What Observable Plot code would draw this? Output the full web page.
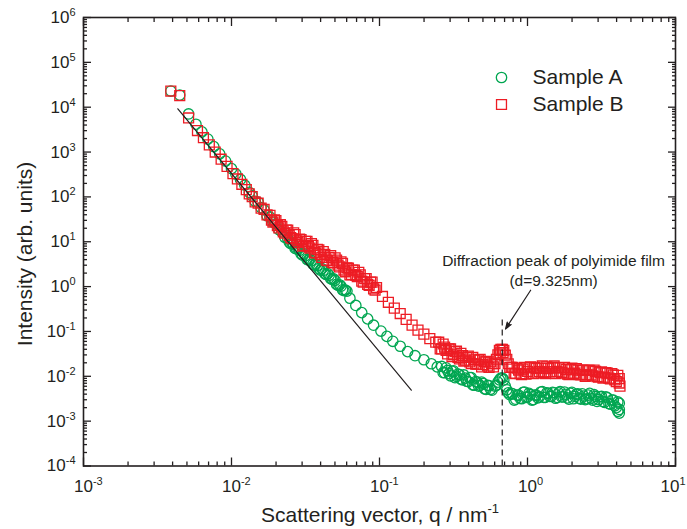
<!DOCTYPE html>
<html>
<head>
<meta charset="utf-8">
<script src="https://cdn.jsdelivr.net/npm/d3@7"></script>
<script src="https://cdn.jsdelivr.net/npm/@observablehq/plot@0.6"></script>
<style>
  html, body { margin: 0; padding: 0; background: #fff; }
  #chart svg { overflow: visible; display: block; }
</style>
</head>
<body>
<div id="chart"></div>
<script>
// ---- Sample A (green circles): q [nm^-1], intensity [arb. units]
const qA = [
  3.89e-3, 4.47e-3, 5.13e-3, 5.75e-3, 6.31e-3, 6.92e-3, 7.59e-3, 8.32e-3, 9.12e-3, 1.00e-2, 1.07e-2, 1.15e-2, 1.23e-2, 1.32e-2,
  1.38e-2, 1.445e-2, 1.514e-2, 1.585e-2, 1.66e-2, 1.738e-2, 1.82e-2, 1.905e-2, 1.995e-2, 2.089e-2,
  2.188e-2, 2.291e-2, 2.399e-2, 2.512e-2, 2.63e-2, 2.754e-2, 2.884e-2, 3.02e-2, 3.162e-2, 3.311e-2,
  3.467e-2, 3.631e-2, 3.802e-2, 3.981e-2, 4.169e-2, 4.365e-2, 4.571e-2, 4.786e-2, 5.012e-2, 5.248e-2,
  5.495e-2, 5.754e-2, 6.026e-2,
  6.31e-2, 6.918e-2, 7.586e-2, 8.318e-2, 9.12e-2, 0.1023, 0.1122, 0.123, 0.138, 0.1549, 0.1738, 0.1995, 0.2239, 0.2455,
  0.263, 0.2754, 0.2884, 0.302, 0.3162, 0.3311, 0.3467, 0.3631, 0.3802, 0.3981,
  0.4169, 0.4365, 0.4571, 0.4786, 0.5012, 0.5248, 0.5495, 0.5754, 0.6026,
  0.6166, 0.631, 0.6457, 0.6607, 0.6761, 0.6918, 0.7079, 0.7244, 0.7413, 0.7586,
  0.7943, 0.8318, 0.871, 0.912, 0.955, 1.0, 1.047, 1.096, 1.148, 1.202,
  1.259, 1.318, 1.38, 1.445, 1.514, 1.585, 1.66, 1.738, 1.82, 1.905,
  1.995, 2.089, 2.188, 2.291, 2.399, 2.512, 2.63, 2.754, 2.884, 3.02,
  3.162, 3.311, 3.467, 3.631, 3.802, 3.981, 4.074, 4.169, 4.169, 4.074, 4.169
];
const iA = [
  2.29e4, 1.86e4, 7.08e3, 4.17e3, 2.82e3, 1.95e3, 1.32e3, 912, 631, 427, 324, 245, 182, 126,
  105, 79.4, 75.9, 57.5, 51.3, 38.0, 35.5, 27.5, 25.1, 18.6,
  16.6, 12.6, 11.7, 9.12, 8.71, 6.92, 6.46, 5.01, 4.90, 3.89,
  3.80, 3.02, 2.95, 2.34, 2.29, 1.86, 1.78, 1.45, 1.38, 1.07,
  1.02, 0.813, 0.794,
  0.55, 0.38, 0.263, 0.1905, 0.138, 0.102, 7.76e-2, 6.03e-2, 4.68e-2, 3.55e-2, 2.88e-2, 2.34e-2, 1.905e-2, 1.62e-2,
  1.66e-2, 1.202e-2, 1.349e-2, 1.023e-2, 1.318e-2, 1.0e-2, 1.096e-2, 8.32e-3, 9.12e-3, 7.59e-3,
  9.33e-3, 6.31e-3, 7.41e-3, 6.31e-3, 6.92e-3, 5.13e-3, 6.17e-3, 4.90e-3, 6.03e-3,
  6.31e-3, 7.41e-3, 8.32e-3, 9.12e-3, 9.12e-3, 8.32e-3, 6.03e-3, 5.01e-3, 4.27e-3, 3.89e-3,
  4.07e-3, 3.09e-3, 3.80e-3, 3.16e-3, 4.47e-3, 3.47e-3, 3.89e-3, 3.02e-3, 3.80e-3, 3.47e-3,
  4.57e-3, 3.39e-3, 4.17e-3, 3.55e-3, 4.27e-3, 3.39e-3, 4.57e-3, 3.47e-3, 3.98e-3, 3.09e-3,
  4.37e-3, 3.55e-3, 4.07e-3, 3.09e-3, 3.63e-3, 3.16e-3, 4.17e-3, 2.95e-3, 3.55e-3, 3.02e-3,
  3.55e-3, 2.63e-3, 3.31e-3, 2.40e-3, 2.95e-3, 2.0e-3, 2.69e-3, 1.82e-3, 2.51e-3, 1.66e-3, 1.51e-3
];
// Sample A, extra points read in the densely filled parts of the curve
const qAfill = [
  2.455e-2, 2.570e-2, 2.692e-2, 2.818e-2, 2.951e-2, 3.090e-2, 3.236e-2, 3.388e-2, 3.548e-2, 3.715e-2,
  3.890e-2, 4.074e-2, 4.266e-2, 4.467e-2, 4.677e-2, 4.898e-2, 5.129e-2, 5.370e-2, 5.623e-2, 5.888e-2,
  0.2692, 0.2818, 0.2951, 0.3090, 0.3236, 0.3388, 0.3548, 0.3715, 0.3890, 0.4074,
  0.4266, 0.4467, 0.4677, 0.4898, 0.5129, 0.5370, 0.5623,
  0.7762, 0.8128, 0.8511, 0.8913, 0.9333, 0.9772, 1.023, 1.072, 1.122, 1.175,
  1.230, 1.288, 1.349, 1.413, 1.479, 1.549, 1.622, 1.698, 1.778, 1.862,
  1.950, 2.042, 2.138, 2.239, 2.344, 2.455, 2.570, 2.692, 2.818, 2.951,
  3.090, 3.236, 3.388, 3.548, 3.715, 3.890
];
const iAfill = [
  9.77, 9.33, 7.08, 6.92, 5.37, 5.37, 4.07, 4.07, 3.16, 3.16,
  2.51, 2.51, 1.95, 1.95, 1.51, 1.48, 1.12, 1.10, 0.851, 0.832,
  1.202e-2, 1.549e-2, 1.148e-2, 1.288e-2, 9.33e-3, 1.122e-2, 8.71e-3, 1.072e-2, 7.76e-3, 9.33e-3,
  6.46e-3, 7.59e-3, 6.03e-3, 7.41e-3, 5.25e-3, 6.31e-3, 5.13e-3,
  4.17e-3, 2.95e-3, 3.80e-3, 3.24e-3, 4.37e-3, 3.39e-3, 4.17e-3, 2.95e-3, 3.80e-3, 3.31e-3,
  4.47e-3, 3.39e-3, 4.27e-3, 3.55e-3, 4.37e-3, 3.24e-3, 4.27e-3, 3.47e-3, 4.47e-3, 3.31e-3,
  4.17e-3, 3.16e-3, 3.98e-3, 3.24e-3, 4.07e-3, 3.02e-3, 3.80e-3, 3.24e-3, 3.89e-3, 2.75e-3,
  3.47e-3, 2.75e-3, 3.47e-3, 2.45e-3, 2.95e-3, 2.19e-3
];

// ---- Sample B (red squares)
const qB = [
  3.89e-3, 4.47e-3, 5.13e-3, 5.89e-3, 6.46e-3, 7.08e-3, 7.76e-3, 8.51e-3, 9.33e-3, 1.023e-2, 1.096e-2, 1.175e-2, 1.259e-2, 1.318e-2,
  1.38e-2, 1.445e-2, 1.514e-2, 1.585e-2, 1.66e-2, 1.738e-2, 1.82e-2, 1.905e-2, 1.995e-2, 2.089e-2,
  2.188e-2, 2.291e-2, 2.399e-2, 2.512e-2, 2.63e-2, 2.754e-2, 2.884e-2, 3.02e-2, 3.162e-2, 3.311e-2,
  3.467e-2, 3.631e-2, 3.802e-2, 3.981e-2, 4.169e-2, 4.365e-2, 4.571e-2, 4.786e-2, 5.012e-2, 5.248e-2,
  5.495e-2, 5.754e-2, 6.026e-2, 6.31e-2, 6.607e-2, 6.918e-2, 7.244e-2, 7.586e-2, 7.943e-2, 8.318e-2,
  8.71e-2, 9.12e-2, 9.55e-2,
  0.1047, 0.1148, 0.1259, 0.138, 0.1514, 0.166, 0.182, 0.1995, 0.2188, 0.2399,
  0.2512, 0.263, 0.2754, 0.2884, 0.302, 0.3162, 0.3311, 0.3467, 0.3631, 0.3802,
  0.3981, 0.4169, 0.4365, 0.4571, 0.4786, 0.5012, 0.5248, 0.5495, 0.5754, 0.6026,
  0.6166, 0.631, 0.6457, 0.6607, 0.6761, 0.6918, 0.7079, 0.7244, 0.7413, 0.7586,
  0.7943, 0.8318, 0.871, 0.912, 0.955, 1.0, 1.047, 1.096, 1.148, 1.202,
  1.259, 1.318, 1.38, 1.445, 1.514, 1.585, 1.66, 1.738, 1.82, 1.905,
  1.995, 2.089, 2.188, 2.291, 2.399, 2.512, 2.63, 2.754, 2.884, 3.02,
  3.162, 3.311, 3.467, 3.631, 3.802, 3.981, 4.074, 4.169, 4.169, 4.217
];
const iB = [
  2.29e4, 1.82e4, 5.75e3, 3.02e3, 2.09e3, 1.445e3, 1.0e3, 692, 479, 331, 251, 191, 145, 117,
  102, 77.6, 72.4, 56.2, 52.5, 39.8, 38.9, 27.5, 29.5, 20.4,
  21.9, 15.5, 18.2, 12.3, 15.8, 10.5, 11.5, 7.94, 10.2, 7.76,
  9.12, 5.75, 6.76, 5.13, 6.03, 3.89, 4.47, 3.47, 4.37, 3.02,
  3.55, 2.34, 2.63, 1.82, 2.34, 1.78, 2.09, 1.32, 1.51, 1.12,
  1.26, 0.891, 0.955,
  0.603, 0.447, 0.331, 0.251, 0.186, 0.138, 0.107, 8.71e-2, 6.92e-2, 5.75e-2,
  5.75e-2, 4.07e-2, 4.47e-2, 3.16e-2, 4.07e-2, 3.02e-2, 3.63e-2, 2.45e-2, 2.88e-2, 2.29e-2,
  2.82e-2, 1.91e-2, 2.34e-2, 1.86e-2, 2.40e-2, 1.82e-2, 2.14e-2, 1.585e-2, 1.905e-2, 1.905e-2,
  2.40e-2, 3.02e-2, 3.80e-2, 3.98e-2, 3.98e-2, 3.80e-2, 2.95e-2, 2.40e-2, 1.905e-2, 1.585e-2,
  1.585e-2, 1.148e-2, 1.38e-2, 1.096e-2, 1.585e-2, 1.288e-2, 1.622e-2, 1.148e-2, 1.479e-2, 1.288e-2,
  1.698e-2, 1.148e-2, 1.479e-2, 1.259e-2, 1.698e-2, 1.288e-2, 1.549e-2, 1.175e-2, 1.413e-2, 1.096e-2,
  1.514e-2, 1.175e-2, 1.38e-2, 1.072e-2, 1.38e-2, 1.072e-2, 1.349e-2, 1.023e-2, 1.288e-2, 9.55e-3,
  1.259e-2, 9.55e-3, 1.175e-2, 8.71e-3, 1.072e-2, 7.59e-3, 1.047e-2, 7.08e-3, 8.91e-3, 6.03e-3
];
// Sample B, extra points read in the densely filled parts of the curve
const qBfill = [
  1.862e-2, 1.950e-2, 2.042e-2, 2.138e-2, 2.239e-2, 2.344e-2, 2.455e-2, 2.570e-2, 2.692e-2, 2.818e-2,
  2.951e-2, 3.090e-2, 3.236e-2, 3.388e-2, 3.548e-2, 3.715e-2, 3.890e-2, 4.074e-2, 4.266e-2, 4.467e-2,
  4.677e-2, 4.898e-2, 5.129e-2, 5.370e-2, 5.623e-2, 5.888e-2, 6.166e-2, 6.457e-2, 6.761e-2, 7.079e-2,
  7.413e-2, 7.762e-2, 8.128e-2, 8.511e-2, 8.913e-2, 9.333e-2,
  0.2570, 0.2692, 0.2818, 0.2951, 0.3090, 0.3236, 0.3388, 0.3548, 0.3715, 0.3890,
  0.4074, 0.4266, 0.4467, 0.4677, 0.4898, 0.5129, 0.5370, 0.5623, 0.5888, 0.653, 0.684,
  0.7762, 0.8128, 0.8511, 0.8913, 0.9333, 0.9772, 1.023, 1.072, 1.122, 1.175,
  1.230, 1.288, 1.349, 1.413, 1.479, 1.549, 1.622, 1.698, 1.778, 1.862,
  1.950, 2.042, 2.138, 2.239, 2.344, 2.455, 2.570, 2.692, 2.818, 2.951,
  3.090, 3.236, 3.388, 3.548, 3.715, 3.890
];
const iBfill = [
  30.2, 30.9, 22.9, 24.0, 16.6, 18.2, 13.8, 11.7, 14.5, 9.55,
  11.2, 8.32, 10.2, 7.24, 8.32, 5.62, 6.61, 4.47, 5.25, 3.80,
  4.90, 3.39, 3.89, 2.75, 3.31, 2.14, 2.57, 1.86, 2.34, 1.66,
  1.82, 1.26, 1.51, 1.07, 1.26, 0.832,
  4.07e-2, 5.25e-2, 3.80e-2, 4.07e-2, 2.75e-2, 3.55e-2, 2.63e-2, 3.24e-2, 2.19e-2, 2.63e-2,
  2.09e-2, 2.63e-2, 1.86e-2, 2.29e-2, 1.62e-2, 2.09e-2, 1.70e-2, 2.09e-2, 1.62e-2, 3.31e-2, 3.39e-2,
  1.585e-2, 1.175e-2, 1.514e-2, 1.148e-2, 1.445e-2, 1.122e-2, 1.549e-2, 1.175e-2, 1.585e-2, 1.175e-2,
  1.514e-2, 1.230e-2, 1.622e-2, 1.259e-2, 1.585e-2, 1.148e-2, 1.549e-2, 1.230e-2, 1.585e-2, 1.122e-2,
  1.413e-2, 1.148e-2, 1.479e-2, 1.096e-2, 1.380e-2, 1.0e-2, 1.349e-2, 1.072e-2, 1.380e-2, 9.77e-3,
  1.202e-2, 9.12e-3, 1.202e-2, 9.12e-3, 1.148e-2, 8.32e-3
];

// ---- Power-law guide line (end points)
const fitQ = [4.34e-3, 0.164];
const fitI = [9.2e3, 4.9e-3];

// ---- Diffraction peak annotation
const peakQ = 0.675;            // 2*pi / 9.325 nm
const peakLineTopI = 0.19;
const arrowFrom = [1.05, 0.83];  // [q, I]
const arrowTo = [0.71, 0.113];
const noteText = "Diffraction peak of polyimide film\n(d=9.325nm)";
const noteAt = [1.5, 2.37];

// ---- Axes
const xDecades = [-3, -2, -1, 0, 1];
const yDecades = [-4, -3, -2, -1, 0, 1, 2, 3, 4, 5, 6];
const xTitle = "Scattering vector, q / nm";
const xTitleSup = "-1";
const yTitle = "Intensity (arb. units)";
const seriesNames = ["Sample A", "Sample B"];

const ink = "#231f20", green = "#00a651", red = "#ed1c24";

const toRows = (qs, is) => qs.map((q, i) => ({q, I: is[i]}));
const dataA = toRows(qA, iA).concat(toRows(qAfill, iAfill));
const dataB = toRows(qB, iB).concat(toRows(qBfill, iBfill));
const fit = toRows(fitQ, fitI);

const xMajor = xDecades.map(e => Math.pow(10, e));
const yMajor = yDecades.map(e => Math.pow(10, e));
const minorOf = (decs) => decs.slice(0, -1).flatMap(e => [2,3,4,5,6,7,8,9].map(m => m * Math.pow(10, e)));
const xMinor = minorOf(xDecades);
const yMinor = minorOf(yDecades);
const fmtX = d => "X10^" + Math.round(Math.log10(d));
const fmtY = d => "Y10^" + Math.round(Math.log10(d));

const tickOpts = {stroke: ink, strokeWidth: 1.3, fill: "none", label: null};
const mTop = 17;

const chart = Plot.plot({
  width: 687,
  height: 529,
  marginLeft: 83,
  marginRight: 12,
  marginTop: mTop,
  marginBottom: 63.5,
  style: {fontFamily: "'Liberation Sans', Arial, Helvetica, sans-serif", color: ink, background: "#fff"},
  x: {type: "log", domain: [1e-3, 10], label: null},
  y: {type: "log", domain: [1e-4, 1e6], label: null},
  marks: [
    Plot.frame({stroke: ink, strokeWidth: 1.6}),
    Plot.axisX(xMajor, {...tickOpts, anchor: "bottom", tickSize: -8}),
    Plot.axisX(xMinor, {...tickOpts, anchor: "bottom", tickSize: -4}),
    Plot.axisX(xMajor, {...tickOpts, anchor: "top", tickSize: -8}),
    Plot.axisX(xMinor, {...tickOpts, anchor: "top", tickSize: -4}),
    Plot.axisY(yMajor, {...tickOpts, anchor: "left", tickSize: -8}),
    Plot.axisY(yMinor, {...tickOpts, anchor: "left", tickSize: -4}),
    Plot.axisY(yMajor, {...tickOpts, anchor: "right", tickSize: -8}),
    Plot.axisY(yMinor, {...tickOpts, anchor: "right", tickSize: -4}),
    Plot.axisX(xMajor, {anchor: "bottom", stroke: "none", fill: ink, tickSize: 11, tickPadding: 3, fontSize: 17, tickFormat: fmtX, label: null}),
    Plot.axisY(yMajor, {anchor: "left", stroke: "none", fill: ink, tickSize: 5, tickPadding: 3, fontSize: 17, tickFormat: fmtY, label: null}),
    Plot.dot(dataA, {x: "q", y: "I", r: 5.2, stroke: green, strokeWidth: 1.3, fill: "none"}),
    Plot.dot(dataB, {x: "q", y: "I", r: 5.6, symbol: "square", stroke: red, strokeWidth: 1.3, fill: "none"}),
    Plot.line(fit, {x: "q", y: "I", stroke: ink, strokeWidth: 1.2}),
    Plot.ruleX([peakQ], {y1: 1e-4, y2: peakLineTopI, stroke: ink, strokeWidth: 1.2, strokeDasharray: "6,4"}),
    Plot.arrow([0], {x1: arrowFrom[0], y1: arrowFrom[1], x2: arrowTo[0], y2: arrowTo[1], stroke: ink, fill: ink, strokeWidth: 1.2, headLength: 9, headAngle: 38}),
    Plot.text([noteText], {x: noteAt[0], y: noteAt[1], text: d => d, fontSize: 15.5, lineHeight: 1.29, textAnchor: "middle", fill: ink}),
    // legend (pixel offsets from the frame's top-left corner)
    Plot.dot([0], {frameAnchor: "top-left", dx: 418, dy: 77 - mTop, r: 5.2, stroke: green, strokeWidth: 1.3, fill: "none"}),
    Plot.dot([0], {frameAnchor: "top-left", dx: 418, dy: 104 - mTop, r: 5.6, symbol: "square", stroke: red, strokeWidth: 1.3, fill: "none"}),
    Plot.text([seriesNames[0]], {frameAnchor: "top-left", lineAnchor: "middle", dx: 449, dy: 77 - mTop, textAnchor: "start", fontSize: 21, fill: ink}),
    Plot.text([seriesNames[1]], {frameAnchor: "top-left", lineAnchor: "middle", dx: 449, dy: 104 - mTop, textAnchor: "start", fontSize: 21, fill: ink})
  ]
});

document.getElementById("chart").appendChild(chart);

// superscript tick labels
const svg = d3.select(chart);
svg.selectAll("text").each(function() {
  const t = d3.select(this);
  const m = /^([XY])10\^(-?\d+)$/.exec(t.text());
  if (!m) return;
  t.text(null);
  const base = t.append("tspan").text("10");
  t.append("tspan").attr("dy", -7).attr("font-size", 11).text(m[2]);
  if (m[1] === "X") {
    t.attr("text-anchor", "start");
    // "10" centred on its tick; the last label is kept inside the page edge
    base.attr("dx", m[2] === String(xDecades[xDecades.length - 1]) ? -15 : -9.5);
  }
});

// axis titles
svg.append("text")
  .attr("transform", "translate(32,254) rotate(-90)")
  .attr("text-anchor", "middle")
  .attr("font-size", 21)
  .attr("fill", ink)
  .text(yTitle);
const xt = svg.append("text")
  .attr("x", 380).attr("y", 522)
  .attr("text-anchor", "middle")
  .attr("font-size", 21)
  .attr("fill", ink);
xt.append("tspan").text(xTitle);
xt.append("tspan").attr("dy", -9).attr("font-size", 13).text(xTitleSup);
</script>
</body>
</html>
